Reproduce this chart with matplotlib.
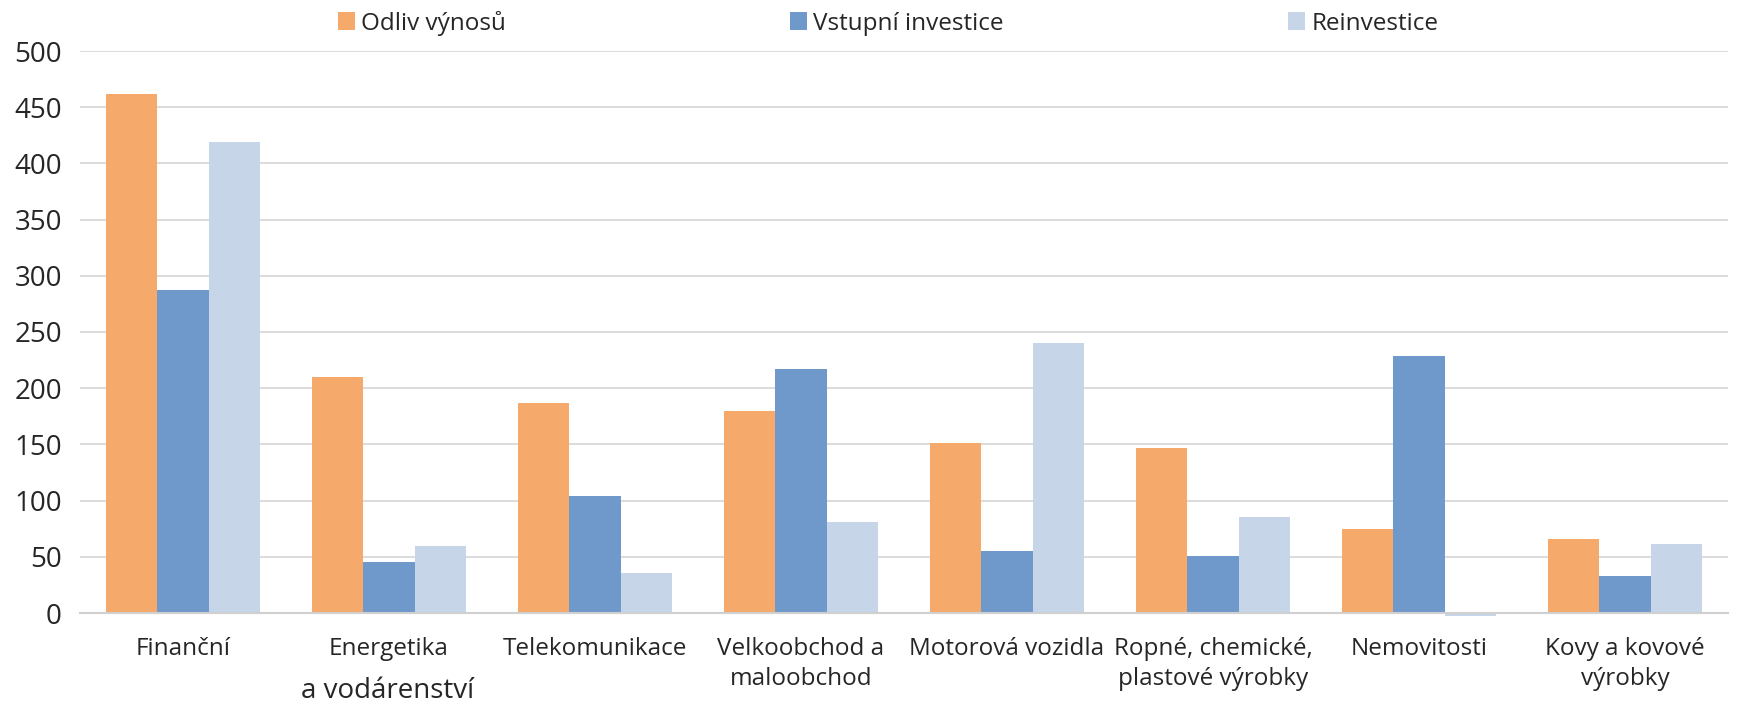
import numpy as np
import matplotlib
matplotlib.use("Agg")
from matplotlib import pyplot as plt

# Data
# ----
categories = ["Finanční", "Energetika", "Telekomunikace", "Velkoobchod a\nmaloobchod",
              "Motorová vozidla", "Ropné, chemické,\nplastové výrobky", "Nemovitosti",
              "Kovy a kovové\nvýrobky"]
series_names = ["Odliv výnosů", "Vstupní investice", "Reinvestice"]
odliv = [462, 210, 187, 180, 151, 147, 75, 66]
vstupni = [287, 45, 104, 217, 55, 51, 229, 33]
reinvestice = [419, 60, 36, 81, 240, 85, -3, 61]
yticks = [0, 50, 100, 150, 200, 250, 300, 350, 400, 450, 500]

colors = ["#F5A96B", "#7099CB", "#C6D6E8"]

plt.rcParams['font.family'] = ['Open Sans', 'DejaVu Sans']

fig = plt.figure(figsize=(17.48, 7.05), dpi=100)
ax = fig.add_axes([80 / 1748, 1 - 613 / 705, 1648 / 1748, (613 - 51) / 705])

x = np.arange(len(categories))
w = 0.25
for k, (vals, name) in enumerate(zip([odliv, vstupni, reinvestice], series_names)):
    ax.bar(x + (k - 1) * w, vals, width=w, color=colors[k], label=name,
           zorder=3, clip_on=False)

ax.set_xlim(-0.5, len(categories) - 0.5)
ax.set_ylim(0, 500)
ax.set_yticks(yticks)
ax.set_xticks(x)
ax.set_xticklabels(categories, fontsize=17.5, color='#262626', linespacing=1.35)
ax.tick_params(axis='x', length=0, pad=17)
ax.tick_params(axis='y', length=0, pad=13, labelsize=20, labelcolor='#262626')

ax.grid(axis='y', color='#D9D9D9', linewidth=1.3, zorder=0)
for s in ['top', 'right', 'left']:
    ax.spines[s].set_visible(False)
ax.spines['bottom'].set_color('#D0D0D0')
ax.spines['bottom'].set_linewidth(1.5)
ax.spines['bottom'].set_zorder(4)

# Second line of the Energetika label sits lower and larger
fig.text(388 / 1748, 1 - 691 / 705, "a vodárenství",
         ha='center', va='center', fontsize=20, color='#262626')

fig.legend(loc='center', bbox_to_anchor=(888 / 1748, 1 - 23 / 705), ncol=3,
           frameon=False, fontsize=17.5, handlelength=0.7, handleheight=0.7,
           handletextpad=0.25, columnspacing=11.7, labelcolor='#262626')

fig.savefig("out.png", dpi=100)
